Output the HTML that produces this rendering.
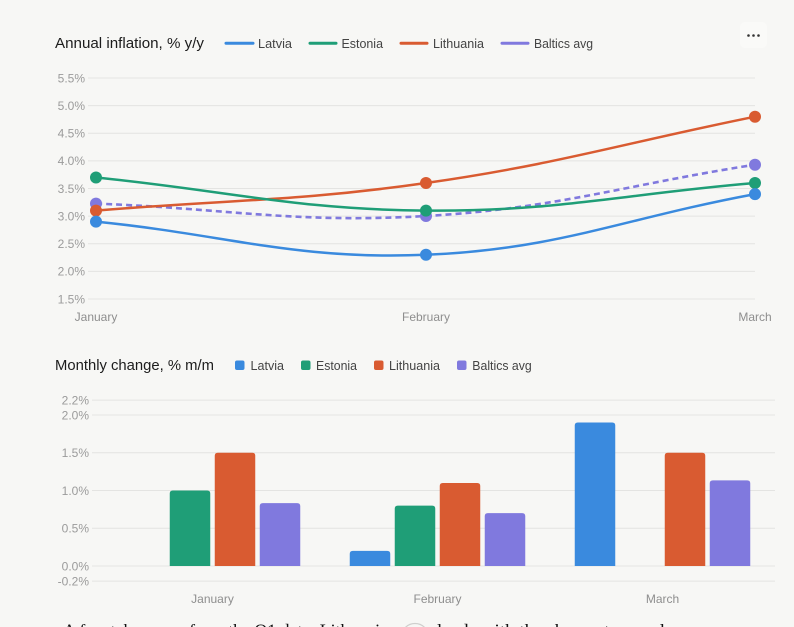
<!DOCTYPE html>
<html>
<head>
<meta charset="utf-8">
<style>
  html,body{margin:0;padding:0;background:#f7f7f5;}
  body{width:794px;height:627px;overflow:hidden;}
  svg{display:block;}
  text{font-family:"Liberation Sans",sans-serif;}
  .tick{font-size:12px;fill:#9b9b9b;}
  .xl{font-size:12px;fill:#8e8e8e;}
  .leg{font-size:12.5px;fill:#444;}
  .ttl{font-size:14.5px;fill:#1c1c1c;}
  .grid{stroke:#e4e4e2;stroke-width:1;}
</style>
</head>
<body>
<svg width="794" height="627" viewBox="0 0 794 627" xmlns="http://www.w3.org/2000/svg">
  <rect x="0" y="0" width="794" height="627" fill="#f7f7f5"/>

  <!-- ===== Line chart header ===== -->
  <text class="ttl" x="55" y="48" textLength="149" lengthAdjust="spacingAndGlyphs">Annual inflation, % y/y</text>
  <line x1="226" y1="43.3" x2="253" y2="43.3" stroke="#3a8ade" stroke-width="3" stroke-linecap="round"/>
  <text class="leg" x="258" y="48" textLength="34" lengthAdjust="spacingAndGlyphs">Latvia</text>
  <line x1="310" y1="43.3" x2="336" y2="43.3" stroke="#1f9e77" stroke-width="3" stroke-linecap="round"/>
  <text class="leg" x="341.5" y="48" textLength="41.5" lengthAdjust="spacingAndGlyphs">Estonia</text>
  <line x1="401" y1="43.3" x2="427" y2="43.3" stroke="#d95b31" stroke-width="3" stroke-linecap="round"/>
  <text class="leg" x="433" y="48" textLength="51" lengthAdjust="spacingAndGlyphs">Lithuania</text>
  <line x1="502" y1="43.3" x2="528" y2="43.3" stroke="#8079de" stroke-width="3" stroke-linecap="round"/>
  <text class="leg" x="534" y="48" textLength="59" lengthAdjust="spacingAndGlyphs">Baltics avg</text>

  <!-- menu -->
  <rect x="740" y="22" width="27" height="26" rx="5" fill="#fafaf8"/>
  <circle cx="748.5" cy="35.5" r="1.3" fill="#333"/>
  <circle cx="753.5" cy="35.5" r="1.3" fill="#333"/>
  <circle cx="758.5" cy="35.5" r="1.3" fill="#333"/>

  <!-- ===== Line chart grid ===== -->
  <g class="grid">
    <line x1="88" y1="78" x2="755" y2="78"/>
    <line x1="88" y1="105.6" x2="755" y2="105.6"/>
    <line x1="88" y1="133.3" x2="755" y2="133.3"/>
    <line x1="88" y1="160.9" x2="755" y2="160.9"/>
    <line x1="88" y1="188.5" x2="755" y2="188.5"/>
    <line x1="88" y1="216.1" x2="755" y2="216.1"/>
    <line x1="88" y1="243.8" x2="755" y2="243.8"/>
    <line x1="88" y1="271.4" x2="755" y2="271.4"/>
    <line x1="88" y1="299" x2="755" y2="299"/>
  </g>
  <g class="tick" text-anchor="end">
    <text x="85" y="82.3">5.5%</text>
    <text x="85" y="109.9">5.0%</text>
    <text x="85" y="137.6">4.5%</text>
    <text x="85" y="165.2">4.0%</text>
    <text x="85" y="192.8">3.5%</text>
    <text x="85" y="220.4">3.0%</text>
    <text x="85" y="248.1">2.5%</text>
    <text x="85" y="275.7">2.0%</text>
    <text x="85" y="303.3">1.5%</text>
  </g>
  <g class="xl" text-anchor="middle">
    <text x="96" y="321">January</text>
    <text x="426" y="321">February</text>
    <text x="755" y="321">March</text>
  </g>

  <!-- Baltics avg -->
  <path d="M96,203.6 C228,208.6 294.7,223.7 426,216.0 C558.3,208.2 623.4,185.2 755,164.7" fill="none" stroke="#8079de" stroke-width="2.6" stroke-dasharray="6,4"/>
  <circle cx="96" cy="203.6" r="6" fill="#8079de"/>
  <circle cx="426" cy="216" r="6" fill="#8079de"/>
  <circle cx="755" cy="164.7" r="6" fill="#8079de"/>
  <!-- Lithuania -->
  <path d="M96,210.6 C228,199.6 295.1,201.7 426,183.0 C558.7,164.1 623.4,143.2 755,116.7" fill="none" stroke="#d95b31" stroke-width="2.5"/>
  <circle cx="96" cy="210.6" r="6" fill="#d95b31"/>
  <circle cx="426" cy="183" r="6" fill="#d95b31"/>
  <circle cx="755" cy="116.7" r="6" fill="#d95b31"/>
  <!-- Estonia -->
  <path d="M96,177.5 C228,190.7 293.9,209.5 426,210.6 C557.5,211.7 623.4,194.0 755,183.0" fill="none" stroke="#1f9e77" stroke-width="2.5"/>
  <circle cx="96" cy="177.5" r="6" fill="#1f9e77"/>
  <circle cx="426" cy="210.6" r="6" fill="#1f9e77"/>
  <circle cx="755" cy="183" r="6" fill="#1f9e77"/>
  <!-- Latvia -->
  <path d="M96,221.6 C228,234.9 294.8,260.3 426,254.8 C558.4,249.3 623.4,218.4 755,194.1" fill="none" stroke="#3a8ade" stroke-width="2.5"/>
  <circle cx="96" cy="221.6" r="6" fill="#3a8ade"/>
  <circle cx="426" cy="254.8" r="6" fill="#3a8ade"/>
  <circle cx="755" cy="194.1" r="6" fill="#3a8ade"/>

  <!-- ===== Bar chart header ===== -->
  <text class="ttl" x="55" y="370" textLength="159" lengthAdjust="spacingAndGlyphs">Monthly change, % m/m</text>
  <rect x="235" y="360.5" width="9.5" height="9.5" rx="2" fill="#3a8ade"/>
  <text class="leg" x="250.5" y="370" textLength="33.5" lengthAdjust="spacingAndGlyphs">Latvia</text>
  <rect x="301" y="360.5" width="9.5" height="9.5" rx="2" fill="#1f9e77"/>
  <text class="leg" x="316" y="370" textLength="41" lengthAdjust="spacingAndGlyphs">Estonia</text>
  <rect x="374" y="360.5" width="9.5" height="9.5" rx="2" fill="#d95b31"/>
  <text class="leg" x="389" y="370" textLength="51" lengthAdjust="spacingAndGlyphs">Lithuania</text>
  <rect x="457" y="360.5" width="9.5" height="9.5" rx="2" fill="#8079de"/>
  <text class="leg" x="472.3" y="370" textLength="59.4" lengthAdjust="spacingAndGlyphs">Baltics avg</text>

  <!-- Bar grid -->
  <g class="grid">
    <line x1="92" y1="400.1" x2="775" y2="400.1"/>
    <line x1="92" y1="415" x2="775" y2="415"/>
    <line x1="92" y1="452.8" x2="775" y2="452.8"/>
    <line x1="92" y1="490.5" x2="775" y2="490.5"/>
    <line x1="92" y1="528.3" x2="775" y2="528.3"/>
    <line x1="92" y1="566" x2="775" y2="566"/>
    <line x1="92" y1="581.1" x2="775" y2="581.1"/>
  </g>
  <g class="tick" text-anchor="end">
    <text x="89" y="404.3">2.2%</text>
    <text x="89" y="419.3">2.0%</text>
    <text x="89" y="457">1.5%</text>
    <text x="89" y="494.8">1.0%</text>
    <text x="89" y="532.5">0.5%</text>
    <text x="89" y="570.3">0.0%</text>
    <text x="89" y="585.4">-0.2%</text>
  </g>
  <g class="xl" text-anchor="middle">
    <text x="212.5" y="603">January</text>
    <text x="437.5" y="603">February</text>
    <text x="662.5" y="603">March</text>
  </g>

  <!-- Bars -->
  <g>
    <!-- January -->
    <path d="M169.75,566 V493.5 Q169.75,490.5 172.75,490.5 H207.25 Q210.25,490.5 210.25,493.5 V566 Z" fill="#1f9e77"/>
    <path d="M214.75,566 V455.75 Q214.75,452.75 217.75,452.75 H252.25 Q255.25,452.75 255.25,455.75 V566 Z" fill="#d95b31"/>
    <path d="M259.75,566 V506.1 Q259.75,503.1 262.75,503.1 H297.25 Q300.25,503.1 300.25,506.1 V566 Z" fill="#8079de"/>
    <!-- February -->
    <path d="M349.75,566 V553.9 Q349.75,550.9 352.75,550.9 H387.25 Q390.25,550.9 390.25,553.9 V566 Z" fill="#3a8ade"/>
    <path d="M394.75,566 V508.6 Q394.75,505.6 397.75,505.6 H432.25 Q435.25,505.6 435.25,508.6 V566 Z" fill="#1f9e77"/>
    <path d="M439.75,566 V485.95 Q439.75,482.95 442.75,482.95 H477.25 Q480.25,482.95 480.25,485.95 V566 Z" fill="#d95b31"/>
    <path d="M484.75,566 V516.15 Q484.75,513.15 487.75,513.15 H522.25 Q525.25,513.15 525.25,516.15 V566 Z" fill="#8079de"/>
    <!-- March -->
    <path d="M574.75,566 V425.55 Q574.75,422.55 577.75,422.55 H612.25 Q615.25,422.55 615.25,425.55 V566 Z" fill="#3a8ade"/>
    <path d="M664.75,566 V455.75 Q664.75,452.75 667.75,452.75 H702.25 Q705.25,452.75 705.25,455.75 V566 Z" fill="#d95b31"/>
    <path d="M709.75,566 V483.4 Q709.75,480.4 712.75,480.4 H747.25 Q750.25,480.4 750.25,483.4 V566 Z" fill="#8079de"/>
  </g>

  <!-- Bottom cut-off paragraph -->
  <g fill="#111" font-size="18">
    <text x="63" y="636.5" style="font-family:'Liberation Serif',serif" textLength="325" lengthAdjust="spacingAndGlyphs">A few takeaways from the Q1 data: Lithuania</text>
    <text x="437" y="636.5" style="font-family:'Liberation Serif',serif" textLength="228" lengthAdjust="spacingAndGlyphs">leads with the sharpest annual</text>
  </g>
  <ellipse cx="415" cy="635.5" rx="13" ry="12" fill="none" stroke="#cfcfcd" stroke-width="1.2"/>
</svg>
</body>
</html>
